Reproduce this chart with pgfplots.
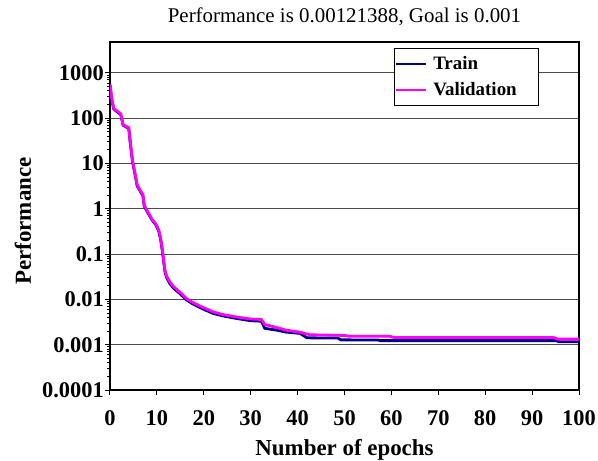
\documentclass[border=0pt]{standalone}
\usepackage{fontspec}
\setmainfont{Liberation Serif}
\usepackage{pgfplots}
\pgfplotsset{compat=1.18}
\definecolor{trainc}{RGB}{0,0,128}
\definecolor{valc}{RGB}{255,0,255}
\begin{document}
\begin{tikzpicture}
\begin{axis}[
  scale only axis,
  width=469bp, height=348bp,
  xmin=0, xmax=100,
  ymode=log, ymin=1e-4, ymax=4830,
  xtick={0,10,20,30,40,50,60,70,80,90,100},
  xticklabels={0,10,20,30,40,50,60,70,80,90,100},
  ytick={1e-4,1e-3,1e-2,1e-1,1,10,100,1000},
  yticklabels={0.0001,0.001,0.01,0.1,1,10,100,1000},
  tick pos=left,
  tick align=outside,
  major tick length=5bp,
  minor tick num=0,
  log ticks with fixed point,
  tick style={black, line width=1bp},
  axis line style={black, line width=1.6bp},
  ymajorgrids,
  major grid style={black!70, line width=1bp},
  ticklabel style={font=\fontsize{22.5}{24}\selectfont\bfseries},
  xticklabel style={anchor=base, yshift=-31bp, inner sep=0pt},
  yticklabel style={anchor=east, inner sep=0pt, xshift=-1bp},
  title={Performance is 0.00121388, Goal is 0.001},
  title style={at={(0.5,1)}, anchor=base, yshift=14bp, inner sep=0pt,
    font=\fontsize{21}{24}\selectfont},
  xlabel={Number of epochs},
  xlabel style={at={(0.5,0)}, anchor=base, yshift=-65bp, inner sep=0pt,
    font=\fontsize{23}{26}\selectfont\bfseries},
  ylabel={Performance},
  ylabel style={at={(0,0.5)}, anchor=base, yshift=79bp, xshift=-5bp, inner sep=0pt,
    font=\fontsize{23}{26}\selectfont\bfseries},
  legend style={at={(0.915,0.983)}, anchor=north east, draw=black,
    line width=0.8bp, fill=white,
    font=\fontsize{19}{21}\selectfont\bfseries,
    inner xsep=0bp, inner ysep=6bp, row sep=6bp,
    nodes={inner xsep=6bp, inner ysep=2.5bp}},
  legend cell align=left,
  legend image code/.code={\draw[#1, line width=2.4bp] (0bp,0bp) -- (30bp,0bp);},
]
\addplot[trainc, line width=2.8bp] table {
0 550
0.4 250
0.8 160
1.5 140
2.3 120
2.8 70
4.0 60
4.3 30
4.8 11
5.3 6
5.8 3.2
6.5 2.4
7.0 2.0
7.3 1.15
7.9 0.88
8.9 0.58
9.8 0.44
10.4 0.32
10.8 0.21
11.1 0.13
11.4 0.075
11.7 0.042
12.1 0.03
12.8 0.022
13.6 0.0175
14.9 0.0135
16.3 0.0098
17.7 0.0079
19.9 0.0061
22.0 0.0049
24.2 0.0043
27.0 0.0038
29.9 0.0034
32.3 0.0033
33.0 0.0023
35.5 0.0021
37.5 0.0019
40.5 0.00178
42.0 0.00142
48.6 0.00140
49.2 0.00128
57.2 0.00127
57.6 0.00123
95.0 0.00123
95.8 0.00116
100 0.00116
};
\addlegendentry{Train}
\addplot[valc, line width=2.8bp] table {
0 560
0.4 260
0.8 165
1.5 145
2.3 125
2.8 72
4.0 62
4.3 31
4.8 11.5
5.3 6.3
5.8 3.4
6.5 2.5
7.0 2.1
7.3 1.2
7.9 0.92
8.9 0.6
9.8 0.46
10.4 0.34
10.8 0.22
11.1 0.14
11.4 0.08
11.7 0.045
12.1 0.032
12.8 0.024
13.6 0.019
14.9 0.0145
16.3 0.0105
17.7 0.0085
19.9 0.0066
22.0 0.0053
24.2 0.0046
27.0 0.0041
29.9 0.0037
32.3 0.0036
33.0 0.0028
35.5 0.0024
37.5 0.0021
39.0 0.0020
40.4 0.0019
42.6 0.00166
50.2 0.0016
51.0 0.00153
59.7 0.00153
60.5 0.00145
94.5 0.00145
95.5 0.00133
100 0.00133
};
\addlegendentry{Validation\hspace*{16bp}}
\end{axis}
\path (current axis.south west) ++(-110bp,-70.5bp) coordinate (A);
\path (current axis.north east) ++(19bp,42bp) coordinate (B);
\pgfresetboundingbox
\path[use as bounding box] (A) rectangle (B);
\end{tikzpicture}
\end{document}
